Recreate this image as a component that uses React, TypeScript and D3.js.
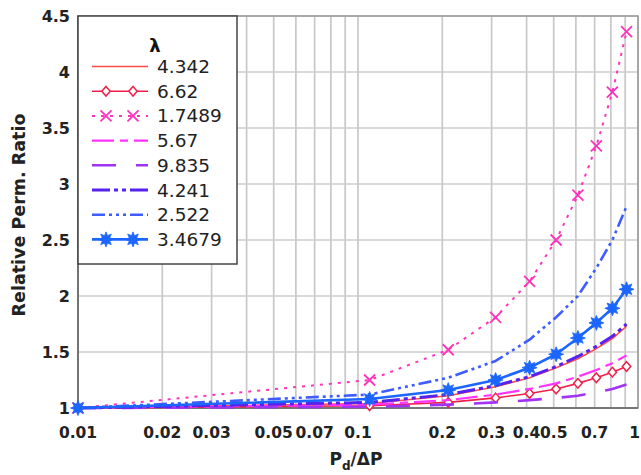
import React from "react";
import * as d3 from "d3";

const xValues = [0.01, 0.11, 0.21, 0.31, 0.41, 0.51, 0.61, 0.71, 0.81, 0.91];
const lambdas = ["4.342", "6.62", "1.7489", "5.67", "9.835", "4.241", "2.522", "3.4679"];
const s4342 = [1, 1.04, 1.11, 1.19, 1.27, 1.36, 1.44, 1.53, 1.62, 1.73];
const s662 = [1, 1.02, 1.05, 1.09, 1.13, 1.17, 1.22, 1.27, 1.32, 1.37];
const s17489 = [1, 1.25, 1.52, 1.81, 2.13, 2.5, 2.9, 3.34, 3.82, 4.36];
const s567 = [1, 1.03, 1.07, 1.12, 1.17, 1.22, 1.28, 1.34, 1.4, 1.47];
const s9835 = [1, 1.01, 1.03, 1.05, 1.07, 1.09, 1.11, 1.14, 1.17, 1.21];
const s4241 = [1, 1.05, 1.12, 1.2, 1.28, 1.37, 1.46, 1.55, 1.64, 1.75];
const s2522 = [1, 1.12, 1.27, 1.42, 1.61, 1.81, 2.0, 2.25, 2.5, 2.8];
const s34679 = [1, 1.08, 1.16, 1.25, 1.36, 1.48, 1.625, 1.76, 1.89, 2.06];
const xTickLabels = ["0.01", "0.02", "0.03", "0.05", "0.07", "0.1", "0.2", "0.3", "0.4", "0.5", "0.7", "1"];
const yTickLabels = ["1", "1.5", "2", "2.5", "3", "3.5", "4", "4.5"];

const seriesValues = [s4342, s662, s17489, s567, s9835, s4241, s2522, s34679];
const styles = [
  { color: "#ff4a4a", width: 1.6, dash: "", marker: "" },
  { color: "#f0204a", width: 1.6, dash: "", marker: "diamond" },
  { color: "#ff33bb", width: 2, dash: "3,6", marker: "x" },
  { color: "#ff33ff", width: 2.2, dash: "22,6,8,6", marker: "" },
  { color: "#a033f5", width: 2.6, dash: "24,20", marker: "" },
  { color: "#5522f0", width: 3, dash: "18,4,4,4,4,4", marker: "" },
  { color: "#3f5cff", width: 2.6, dash: "13,4,3,4,3,4,3,4", marker: "" },
  { color: "#1a66ff", width: 2.6, dash: "", marker: "star" },
];

const FONT = "'DejaVu Sans', sans-serif";

function starPath(r1: number, r2: number, n: number) {
  const pts: string[] = [];
  for (let i = 0; i < n * 2; i++) {
    const r = i % 2 === 0 ? r1 : r2;
    const a = (Math.PI * i) / n - Math.PI / 2;
    pts.push(`${(r * Math.cos(a)).toFixed(2)},${(r * Math.sin(a)).toFixed(2)}`);
  }
  return "M" + pts.join("L") + "Z";
}

function Marker({ type, x, y, color }: { type: string; x: number; y: number; color: string }) {
  if (type === "diamond") {
    return (
      <path d="M0,-4.8L4.2,0L0,4.8L-4.2,0Z" transform={`translate(${x},${y})`} fill="#fff" stroke={color} strokeWidth={1.5} />
    );
  }
  if (type === "x") {
    return (
      <path d="M-5.5,-5.5L5.5,5.5M-5.5,5.5L5.5,-5.5" transform={`translate(${x},${y})`} stroke={color} strokeWidth={1.8} fill="none" />
    );
  }
  if (type === "star") {
    return <path d={starPath(7.5, 4, 8)} transform={`translate(${x},${y})`} fill={color} stroke={color} strokeWidth={0.8} />;
  }
  return null;
}

export default function App() {
  const W = 641;
  const H = 475;
  const left = 78;
  const right = 638;
  const top = 16;
  const bottom = 408;
  const x = d3.scaleLog().domain([0.01, 1]).range([left, right]);
  const y = d3.scaleLinear().domain([1, 4.5]).range([bottom, top]);
  const line = d3
    .line<number>()
    .x((_, i) => x(xValues[i]))
    .y((d) => y(d));

  const minorX: number[] = [];
  for (const dec of [0.01, 0.1]) for (let k = 1; k <= 9; k++) minorX.push(dec * k);
  minorX.push(1);
  const yGrid = yTickLabels.map((t) => +t);

  const legX0 = 92;
  const legX1 = 148;
  const legY0 = 66.5;
  const legDy = 24.7;

  return (
    <svg width={W} height={H} style={{ position: "absolute", left: 0, top: 0, background: "#fff" }}>
      <rect x={0} y={0} width={W} height={H} fill="#fff" />
      {minorX.map((v, i) => (
        <line key={"gx" + i} x1={x(v)} x2={x(v)} y1={top} y2={bottom} stroke="#c8c8c8" strokeWidth={1.7} />
      ))}
      {yGrid.map((v, i) => (
        <line key={"gy" + i} x1={left} x2={right} y1={y(v)} y2={y(v)} stroke="#cdcdcd" strokeWidth={1.6} />
      ))}
      <rect x={left} y={top} width={right - left} height={bottom - top} fill="none" stroke="#9a9a9a" strokeWidth={1.5} />
      <line x1={left} x2={left} y1={top} y2={bottom} stroke="#666" strokeWidth={1.6} />
      <line x1={left} x2={right} y1={bottom} y2={bottom} stroke="#666" strokeWidth={1.6} />

      {seriesValues.map((vals, si) => (
        <g key={"s" + si}>
          <path
            d={line(vals) || ""}
            fill="none"
            stroke={styles[si].color}
            strokeWidth={styles[si].width}
            strokeDasharray={styles[si].dash || undefined}
            strokeLinejoin="round"
          />
          {styles[si].marker &&
            vals.map((v, i) => (
              <Marker key={i} type={styles[si].marker} x={x(xValues[i])} y={y(v)} color={styles[si].color} />
            ))}
        </g>
      ))}

      {/* legend */}
      <rect x={left} y={top} width={159} height={248} fill="#fff" stroke="#444" strokeWidth={1.5} />
      <text x={155} y={52} fontFamily={FONT} fontWeight="bold" fontSize={18} textAnchor="middle" fill="#111">
        λ
      </text>
      {lambdas.map((lab, i) => {
        const ly = legY0 + i * legDy;
        const st = styles[i];
        return (
          <g key={"l" + i}>
            <line
              x1={legX0}
              x2={legX1}
              y1={ly}
              y2={ly}
              stroke={st.color}
              strokeWidth={st.width}
              strokeDasharray={st.dash || undefined}
            />
            {st.marker && <Marker type={st.marker} x={106} y={ly} color={st.color} />}
            {st.marker && <Marker type={st.marker} x={133} y={ly} color={st.color} />}
            <text x={157} y={ly + 6.5} fontFamily={FONT} fontSize={18.5} fill="#222">
              {lab}
            </text>
          </g>
        );
      })}

      {/* axes labels */}
      {xTickLabels.map((t, i) => {
        const last = i === xTickLabels.length - 1;
        return (
          <text
            key={"xt" + t}
            x={last ? 640 : x(+t)}
            y={438}
            textAnchor={last ? "end" : "middle"}
            fontFamily={FONT}
            fontWeight="bold"
            fontSize={15.5}
            fill="#222"
          >
            {t}
          </text>
        );
      })}
      {yTickLabels.map((t) => (
        <text key={"yt" + t} x={70} y={y(+t) + 6} textAnchor="end" fontFamily={FONT} fontWeight="bold" fontSize={16} fill="#222">
          {t}
        </text>
      ))}
      <text
        transform={`translate(25,${(113 + 317) / 2}) rotate(-90)`}
        textAnchor="middle"
        fontFamily={FONT}
        fontWeight="bold"
        fontSize={17.5}
        fill="#222"
      >
        Relative Perm. Ratio
      </text>
      <text x={356} y={465} textAnchor="middle" fontFamily={FONT} fontWeight="bold" fontSize={17} fill="#222">
        P<tspan fontSize={12} dy={5}>d</tspan>
        <tspan dy={-5}>/ΔP</tspan>
      </text>
    </svg>
  );
}
